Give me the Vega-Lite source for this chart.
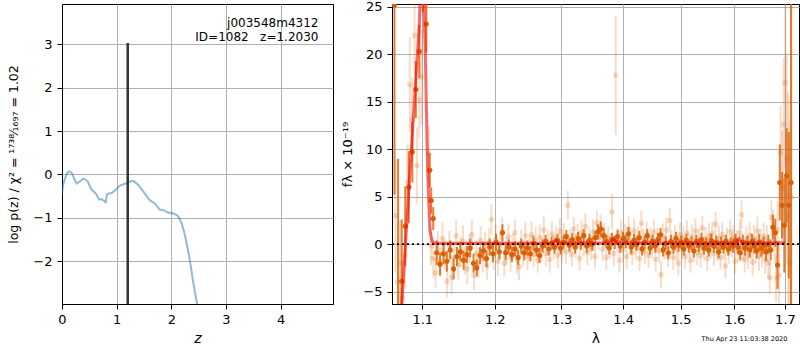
{
"$schema": "https://vega.github.io/schema/vega-lite/v6.json",
"padding": {"left": 7, "top": 0, "right": 0, "bottom": 0},
"config": {
 "font": "DejaVu Sans",
 "view": {"stroke": "black", "strokeWidth": 1},
 "axis": {"domainColor": "black", "tickColor": "black", "labelColor": "black", "titleColor": "black", "gridColor": "#b0b0b0", "gridWidth": 1, "tickSize": 5, "labelFontSize": 13, "titleFontSize": 13, "titleFontWeight": "normal", "labelPadding": 4, "labelFlush": false, "labelOverlap": false, "domainWidth": 1}
},
"datasets": {
 "pz": [
  {"z":0.0,"lp":-0.44},{"z":0.02,"lp":-0.25},{"z":0.055,"lp":-0.095},{"z":0.09,"lp":0.02},{"z":0.128,"lp":0.07},{"z":0.16,"lp":0.06},{"z":0.18,"lp":0.03},{"z":0.23,"lp":-0.12},{"z":0.27,"lp":-0.21},{"z":0.33,"lp":-0.16},{"z":0.39,"lp":-0.1},{"z":0.43,"lp":-0.12},{"z":0.47,"lp":-0.16},{"z":0.5,"lp":-0.24},{"z":0.54,"lp":-0.35},{"z":0.6,"lp":-0.42},{"z":0.63,"lp":-0.46},{"z":0.66,"lp":-0.54},{"z":0.68,"lp":-0.58},{"z":0.72,"lp":-0.57},{"z":0.756,"lp":-0.6},{"z":0.8,"lp":-0.64},{"z":0.815,"lp":-0.52},{"z":0.83,"lp":-0.45},{"z":0.91,"lp":-0.43},{"z":1.0,"lp":-0.34},{"z":1.06,"lp":-0.26},{"z":1.19,"lp":-0.2},{"z":1.28,"lp":-0.15},{"z":1.33,"lp":-0.17},{"z":1.4,"lp":-0.25},{"z":1.49,"lp":-0.4},{"z":1.55,"lp":-0.5},{"z":1.61,"lp":-0.6},{"z":1.7,"lp":-0.67},{"z":1.74,"lp":-0.74},{"z":1.79,"lp":-0.81},{"z":1.84,"lp":-0.82},{"z":1.88,"lp":-0.84},{"z":1.94,"lp":-0.88},{"z":2.04,"lp":-0.9},{"z":2.1,"lp":-0.94},{"z":2.14,"lp":-0.99},{"z":2.19,"lp":-1.13},{"z":2.23,"lp":-1.3},{"z":2.27,"lp":-1.52},{"z":2.34,"lp":-1.98},{"z":2.4,"lp":-2.48},{"z":2.47,"lp":-2.98},{"z":2.52,"lp":-3.4}
 ],
 "zline": [{"z":1.203,"lp":-2.99,"lp2":3.03}],
 "label": [{"z":4.694,"lp":3.406,"t":"j003548m4312"},{"z":4.694,"lp":3.083,"t":"ID=1082\u00a0\u00a0\u00a0z=1.2030"}],
 "stamp": [{"l":1.7049,"f":-10.0,"t":"Thu Apr 23 11:03:38 2020"}],
 "model": [
  {"l":1.07,"f":-14},{"l":1.0731,"f":-6.3},{"l":1.0777,"f":-0.4},{"l":1.0823,"f":5.7},{"l":1.0869,"f":11.6},{"l":1.0915,"f":17.4},{"l":1.0961,"f":23.2},{"l":1.099,"f":31},{"l":1.101,"f":28},{"l":1.104,"f":20},{"l":1.107,"f":8},{"l":1.11,"f":1.5},{"l":1.113,"f":0.3},{"l":1.116,"f":0.12},{"l":1.2,"f":0.1},{"l":1.285,"f":0.12},{"l":1.291,"f":0.45},{"l":1.297,"f":0.12},{"l":1.378,"f":0.15},{"l":1.384,"f":0.6},{"l":1.39,"f":0.15},{"l":1.603,"f":0.12},{"l":1.609,"f":0.6},{"l":1.615,"f":0.12},{"l":1.7,"f":0.15}
 ],
 "dark": [
  {"l":1.0639,"f":25.2,"e":20},{"l":1.0685,"f":-8,"e":17},{"l":1.0731,"f":-3.9,"e":6.5},{"l":1.0777,"f":1.9,"e":4.2},{"l":1.0823,"f":6.0,"e":3.8},{"l":1.0869,"f":9.7,"e":3.2},{"l":1.0915,"f":16.3,"e":3.0},{"l":1.0961,"f":20.3,"e":2.8},{"l":1.1007,"f":27.5,"e":3.0},{"l":1.1053,"f":23.2,"e":3.0},{"l":1.1099,"f":7.8,"e":1.8},{"l":1.1118,"f":4.6,"e":1.4},{"l":1.1145,"f":2.7,"e":1.2},
  {"l":1.1191,"f":-0.9,"e":1.3},{"l":1.1237,"f":-2.1,"e":1.2},{"l":1.1283,"f":-1.0,"e":1.1},{"l":1.1329,"f":-1.8,"e":1.1},{"l":1.1375,"f":-0.6,"e":1.0},{"l":1.1421,"f":-2.6,"e":1.1},{"l":1.1467,"f":-1.3,"e":1.0},{"l":1.1513,"f":-0.8,"e":1.0},{"l":1.1559,"f":-1.7,"e":1.0},{"l":1.1605,"f":-1.1,"e":0.9},{"l":1.1651,"f":-0.4,"e":1.0},{"l":1.1697,"f":-2.0,"e":1.0},{"l":1.1743,"f":-2.5,"e":0.9},{"l":1.1789,"f":-1.2,"e":0.9},{"l":1.1835,"f":-0.7,"e":0.9},{"l":1.1881,"f":-1.5,"e":0.9},{"l":1.1927,"f":-0.3,"e":0.9},{"l":1.1973,"f":-1.0,"e":0.9},{"l":1.2019,"f":0.2,"e":0.9},{"l":1.2065,"f":-0.8,"e":0.8},{"l":1.2111,"f":1.2,"e":0.9},{"l":1.2157,"f":-0.9,"e":0.8},{"l":1.2203,"f":-0.3,"e":0.8},{"l":1.2249,"f":-1.1,"e":0.8},{"l":1.2295,"f":-0.5,"e":0.8},{"l":1.2341,"f":-1.4,"e":0.8},{"l":1.2387,"f":-0.2,"e":0.8},{"l":1.2433,"f":-0.9,"e":0.8},{"l":1.2479,"f":-0.4,"e":0.8},{"l":1.2525,"f":-1.0,"e":0.8},{"l":1.2571,"f":0.1,"e":0.8},{"l":1.2617,"f":-0.6,"e":0.7},{"l":1.2663,"f":-1.2,"e":0.8},{"l":1.2709,"f":-0.2,"e":0.7},{"l":1.2755,"f":0.3,"e":0.7},{"l":1.2801,"f":-0.5,"e":0.7},{"l":1.2847,"f":0.1,"e":0.7},{"l":1.2893,"f":-0.3,"e":0.7},{"l":1.2939,"f":0.4,"e":0.7},{"l":1.2985,"f":-0.4,"e":0.7},{"l":1.3031,"f":0.2,"e":0.7},{"l":1.3077,"f":0.8,"e":0.7},{"l":1.3123,"f":-0.1,"e":0.7},{"l":1.3169,"f":0.5,"e":0.7},{"l":1.3215,"f":-0.3,"e":0.7},{"l":1.3261,"f":0.6,"e":0.7},{"l":1.3307,"f":0.1,"e":0.7},{"l":1.3353,"f":0.9,"e":0.7},{"l":1.3399,"f":-0.2,"e":0.7},{"l":1.3445,"f":0.4,"e":0.7},{"l":1.3491,"f":0.0,"e":0.7},{"l":1.3537,"f":0.7,"e":0.7},{"l":1.3583,"f":1.3,"e":0.8},{"l":1.3629,"f":1.6,"e":0.8},{"l":1.3675,"f":0.9,"e":0.8},{"l":1.3721,"f":0.3,"e":0.7},{"l":1.3767,"f":-0.4,"e":0.7},{"l":1.3813,"f":0.5,"e":0.7},{"l":1.3859,"f":0.2,"e":0.7},{"l":1.3905,"f":0.8,"e":0.7},{"l":1.3951,"f":-0.2,"e":0.7},{"l":1.3997,"f":0.6,"e":0.7},{"l":1.4043,"f":0.3,"e":0.7},{"l":1.4089,"f":1.1,"e":0.7},{"l":1.4135,"f":-0.3,"e":0.7},{"l":1.4181,"f":0.4,"e":0.7},{"l":1.4227,"f":0.0,"e":0.7},{"l":1.4273,"f":0.7,"e":0.7},{"l":1.4319,"f":-0.5,"e":0.7},{"l":1.4365,"f":0.2,"e":0.7},{"l":1.4411,"f":0.9,"e":0.7},{"l":1.4457,"f":-0.4,"e":0.7},{"l":1.4503,"f":0.3,"e":0.7},{"l":1.4549,"f":-0.2,"e":0.7},{"l":1.4595,"f":0.5,"e":0.7},{"l":1.4641,"f":1.0,"e":0.7},{"l":1.4687,"f":-0.6,"e":0.7},{"l":1.4733,"f":0.1,"e":0.7},{"l":1.4779,"f":-0.9,"e":0.7},{"l":1.4825,"f":0.3,"e":0.7},{"l":1.4871,"f":-0.3,"e":0.7},{"l":1.4917,"f":0.6,"e":0.7},{"l":1.4963,"f":-0.1,"e":0.7},{"l":1.5009,"f":0.2,"e":0.7},{"l":1.5055,"f":-0.5,"e":0.7},{"l":1.5101,"f":0.4,"e":0.7},{"l":1.5147,"f":-0.2,"e":0.7},{"l":1.5193,"f":0.1,"e":0.7},{"l":1.5239,"f":-0.7,"e":0.7},{"l":1.5285,"f":0.3,"e":0.7},{"l":1.5331,"f":-0.1,"e":0.7},{"l":1.5377,"f":0.5,"e":0.7},{"l":1.5423,"f":-0.4,"e":0.7},{"l":1.5469,"f":0.0,"e":0.7},{"l":1.5515,"f":-0.6,"e":0.7},{"l":1.5561,"f":0.4,"e":0.7},{"l":1.5607,"f":-0.2,"e":0.7},{"l":1.5653,"f":0.2,"e":0.7},{"l":1.5699,"f":-0.8,"e":0.7},{"l":1.5745,"f":0.1,"e":0.7},{"l":1.5791,"f":-0.3,"e":0.7},{"l":1.5837,"f":0.3,"e":0.7},{"l":1.5883,"f":-0.5,"e":0.7},{"l":1.5929,"f":0.0,"e":0.7},{"l":1.5975,"f":-0.2,"e":0.7},{"l":1.6021,"f":0.4,"e":0.7},{"l":1.6067,"f":-0.3,"e":0.7},{"l":1.6113,"f":-0.9,"e":0.8},{"l":1.6159,"f":0.2,"e":0.8},{"l":1.6205,"f":-0.4,"e":0.8},{"l":1.6251,"f":0.1,"e":0.8},{"l":1.6297,"f":-0.6,"e":0.8},{"l":1.6343,"f":0.3,"e":0.8},{"l":1.6389,"f":-0.2,"e":0.8},{"l":1.6435,"f":-0.7,"e":0.8},{"l":1.6481,"f":0.2,"e":0.9},{"l":1.6527,"f":-0.4,"e":0.9},{"l":1.6573,"f":-0.1,"e":0.9},{"l":1.6619,"f":-0.8,"e":1.0},{"l":1.6665,"f":0.0,"e":1.0},{"l":1.6711,"f":-0.6,"e":1.1},{"l":1.6757,"f":1.8,"e":1.3},{"l":1.6803,"f":1.2,"e":1.5},{"l":1.6849,"f":-2.2,"e":2.5},{"l":1.6895,"f":6.5,"e":4.0},{"l":1.6941,"f":4.1,"e":3.5},{"l":1.6987,"f":2.0,"e":5.0},{"l":1.7033,"f":7.2,"e":5.0},{"l":1.7079,"f":4.1,"e":7.7},{"l":1.7125,"f":6.5,"e":40}
 ],
 "light": [
  {"l":1.065,"f":3.0,"e":6},{"l":1.0681,"f":-4.0,"e":5},{"l":1.0712,"f":-2.0,"e":4.5},{"l":1.0743,"f":-5.7,"e":4},{"l":1.0774,"f":-1.2,"e":3.5},{"l":1.0805,"f":6.5,"e":4},{"l":1.0836,"f":16.8,"e":5},{"l":1.0867,"f":13.1,"e":4.5},{"l":1.0898,"f":22.0,"e":4},{"l":1.0929,"f":8.3,"e":4},{"l":1.096,"f":15.2,"e":4},{"l":1.0991,"f":17.6,"e":5},{"l":1.1022,"f":30,"e":5},{"l":1.1053,"f":26,"e":4},{"l":1.1084,"f":9.5,"e":3},{"l":1.1115,"f":-0.2,"e":2},{"l":1.1146,"f":-1.5,"e":2},
  {"l":1.1177,"f":-3.0,"e":1.6},{"l":1.1208,"f":-0.4,"e":1.8},{"l":1.1239,"f":-1.9,"e":1.5},{"l":1.127,"f":0.6,"e":1.7},{"l":1.1301,"f":-1.1,"e":1.6},{"l":1.1332,"f":-3.9,"e":1.7},{"l":1.1363,"f":-0.2,"e":1.6},{"l":1.1394,"f":-3.5,"e":1.8},{"l":1.1425,"f":-1.4,"e":1.5},{"l":1.1456,"f":0.9,"e":1.6},{"l":1.1487,"f":-2.2,"e":1.5},{"l":1.1518,"f":-0.8,"e":1.6},{"l":1.1549,"f":0.3,"e":1.7},{"l":1.158,"f":-1.7,"e":1.5},{"l":1.1611,"f":-2.6,"e":1.6},{"l":1.1642,"f":-0.5,"e":1.5},{"l":1.1673,"f":1.0,"e":1.6},{"l":1.1704,"f":-3.3,"e":1.5},{"l":1.1735,"f":-1.0,"e":1.5},{"l":1.1766,"f":-2.0,"e":1.6},{"l":1.1797,"f":0.4,"e":1.5},{"l":1.1828,"f":-1.5,"e":1.5},{"l":1.1859,"f":-0.3,"e":1.6},{"l":1.189,"f":-2.3,"e":1.5},{"l":1.1921,"f":0.2,"e":1.5},{"l":1.1952,"f":2.6,"e":1.6},{"l":1.1983,"f":-1.2,"e":1.5},{"l":1.2014,"f":0.5,"e":1.5},{"l":1.2045,"f":-1.8,"e":1.5},{"l":1.2076,"f":-0.1,"e":1.4},{"l":1.2107,"f":1.3,"e":1.5},{"l":1.2138,"f":-2.0,"e":1.4},{"l":1.2169,"f":-0.7,"e":1.5},{"l":1.22,"f":0.8,"e":1.4},{"l":1.2231,"f":-1.4,"e":1.5},{"l":1.2262,"f":-0.3,"e":1.4},{"l":1.2293,"f":1.2,"e":1.4},{"l":1.2324,"f":-1.6,"e":1.5},{"l":1.2355,"f":-2.4,"e":1.4},{"l":1.2386,"f":0.1,"e":1.4},{"l":1.2417,"f":-0.9,"e":1.4},{"l":1.2448,"f":0.9,"e":1.4},{"l":1.2479,"f":-1.3,"e":1.4},{"l":1.251,"f":-0.4,"e":1.4},{"l":1.2541,"f":1.0,"e":1.4},{"l":1.2572,"f":-1.1,"e":1.3},{"l":1.2603,"f":0.4,"e":1.4},{"l":1.2634,"f":-1.7,"e":1.3},{"l":1.2665,"f":0.7,"e":1.4},{"l":1.2696,"f":-0.5,"e":1.3},{"l":1.2727,"f":1.5,"e":1.4},{"l":1.2758,"f":-1.0,"e":1.3},{"l":1.2789,"f":0.2,"e":1.3},{"l":1.282,"f":-1.6,"e":1.4},{"l":1.2851,"f":1.1,"e":1.3},{"l":1.2882,"f":-0.3,"e":1.3},{"l":1.2913,"f":0.6,"e":1.3},{"l":1.2944,"f":-1.2,"e":1.3},{"l":1.2975,"f":1.4,"e":1.3},{"l":1.3006,"f":-0.6,"e":1.3},{"l":1.3037,"f":0.9,"e":1.3},{"l":1.3068,"f":-0.8,"e":1.3},{"l":1.3099,"f":4.1,"e":1.5},{"l":1.313,"f":0.3,"e":1.3},{"l":1.3161,"f":-1.1,"e":1.3},{"l":1.3192,"f":1.6,"e":1.3},{"l":1.3223,"f":-0.2,"e":1.3},{"l":1.3254,"f":0.8,"e":1.3},{"l":1.3285,"f":-1.5,"e":1.3},{"l":1.3316,"f":1.2,"e":1.3},{"l":1.3347,"f":0.0,"e":1.3},{"l":1.3378,"f":1.9,"e":1.3},{"l":1.3409,"f":-0.9,"e":1.3},{"l":1.344,"f":0.5,"e":1.3},{"l":1.3471,"f":-0.4,"e":1.3},{"l":1.3502,"f":1.3,"e":1.3},{"l":1.3533,"f":-1.3,"e":1.3},{"l":1.3564,"f":2.2,"e":1.3},{"l":1.3595,"f":0.7,"e":1.3},{"l":1.3626,"f":1.8,"e":1.3},{"l":1.3657,"f":-0.5,"e":1.3},{"l":1.3688,"f":1.0,"e":1.3},{"l":1.3719,"f":-1.4,"e":1.3},{"l":1.375,"f":0.6,"e":1.3},{"l":1.3781,"f":-0.2,"e":1.3},{"l":1.3812,"f":3.4,"e":1.9},{"l":1.3843,"f":-1.0,"e":1.3},{"l":1.3874,"f":17.8,"e":6.3},{"l":1.3905,"f":0.4,"e":1.3},{"l":1.3936,"f":-1.7,"e":1.3},{"l":1.3967,"f":1.2,"e":1.3},{"l":1.3998,"f":-0.6,"e":1.3},{"l":1.4029,"f":0.8,"e":1.3},{"l":1.406,"f":-1.3,"e":1.3},{"l":1.4091,"f":1.6,"e":1.3},{"l":1.4122,"f":0.1,"e":1.3},{"l":1.4153,"f":-0.9,"e":1.3},{"l":1.4184,"f":1.4,"e":1.3},{"l":1.4215,"f":-0.3,"e":1.3},{"l":1.4246,"f":0.6,"e":1.3},{"l":1.4277,"f":-1.5,"e":1.3},{"l":1.4308,"f":2.2,"e":1.3},{"l":1.4339,"f":0.3,"e":1.3},{"l":1.437,"f":-0.8,"e":1.3},{"l":1.4401,"f":1.1,"e":1.3},{"l":1.4432,"f":-1.2,"e":1.3},{"l":1.4463,"f":0.5,"e":1.3},{"l":1.4494,"f":-0.2,"e":1.3},{"l":1.4525,"f":1.3,"e":1.3},{"l":1.4556,"f":-1.6,"e":1.3},{"l":1.4587,"f":0.4,"e":1.3},{"l":1.4618,"f":-0.7,"e":1.3},{"l":1.4649,"f":-3.2,"e":1.4},{"l":1.468,"f":0.9,"e":1.3},{"l":1.4711,"f":-0.4,"e":1.3},{"l":1.4742,"f":1.5,"e":1.3},{"l":1.4773,"f":-1.1,"e":1.3},{"l":1.4804,"f":2.5,"e":1.3},{"l":1.4835,"f":0.2,"e":1.3},{"l":1.4866,"f":-1.4,"e":1.3},{"l":1.4897,"f":0.7,"e":1.3},{"l":1.4928,"f":-0.5,"e":1.3},{"l":1.4959,"f":-2.0,"e":1.3},{"l":1.499,"f":1.0,"e":1.3},{"l":1.5021,"f":-0.3,"e":1.3},{"l":1.5052,"f":0.6,"e":1.3},{"l":1.5083,"f":-1.3,"e":1.3},{"l":1.5114,"f":1.2,"e":1.3},{"l":1.5145,"f":-0.1,"e":1.3},{"l":1.5176,"f":-1.7,"e":1.3},{"l":1.5207,"f":0.8,"e":1.3},{"l":1.5238,"f":-0.6,"e":1.3},{"l":1.5269,"f":1.4,"e":1.3},{"l":1.53,"f":-0.9,"e":1.3},{"l":1.5331,"f":0.3,"e":1.3},{"l":1.5362,"f":-1.2,"e":1.3},{"l":1.5393,"f":1.7,"e":1.3},{"l":1.5424,"f":-0.4,"e":1.3},{"l":1.5455,"f":0.5,"e":1.3},{"l":1.5486,"f":-1.5,"e":1.3},{"l":1.5517,"f":0.9,"e":1.3},{"l":1.5548,"f":-0.2,"e":1.3},{"l":1.5579,"f":1.1,"e":1.3},{"l":1.561,"f":-1.0,"e":1.3},{"l":1.5641,"f":2.1,"e":1.3},{"l":1.5672,"f":-0.5,"e":1.3},{"l":1.5703,"f":0.6,"e":1.3},{"l":1.5734,"f":-1.4,"e":1.3},{"l":1.5765,"f":1.0,"e":1.3},{"l":1.5796,"f":-0.3,"e":1.3},{"l":1.5827,"f":-2.3,"e":1.3},{"l":1.5858,"f":0.4,"e":1.3},{"l":1.5889,"f":-0.8,"e":1.3},{"l":1.592,"f":1.3,"e":1.3},{"l":1.5951,"f":-0.1,"e":1.3},{"l":1.5982,"f":0.7,"e":1.3},{"l":1.6013,"f":-1.8,"e":1.3},{"l":1.6044,"f":0.2,"e":1.3},{"l":1.6075,"f":-0.7,"e":1.3},{"l":1.6106,"f":1.2,"e":1.4},{"l":1.6137,"f":3.1,"e":1.5},{"l":1.6168,"f":-0.4,"e":1.4},{"l":1.6199,"f":-1.6,"e":1.4},{"l":1.623,"f":0.5,"e":1.4},{"l":1.6261,"f":-1.2,"e":1.4},{"l":1.6292,"f":0.9,"e":1.4},{"l":1.6323,"f":-0.2,"e":1.4},{"l":1.6354,"f":-1.9,"e":1.4},{"l":1.6385,"f":0.6,"e":1.4},{"l":1.6416,"f":-0.6,"e":1.4},{"l":1.6447,"f":1.4,"e":1.5},{"l":1.6478,"f":-1.3,"e":1.5},{"l":1.6509,"f":0.1,"e":1.5},{"l":1.654,"f":-0.9,"e":1.5},{"l":1.6571,"f":0.8,"e":1.5},{"l":1.6602,"f":-1.6,"e":1.6},{"l":1.6633,"f":0.4,"e":1.6},{"l":1.6664,"f":-2.0,"e":1.7},{"l":1.6695,"f":-3.5,"e":1.8},{"l":1.6726,"f":2.8,"e":1.9},{"l":1.6757,"f":1.6,"e":2.0},{"l":1.6788,"f":0.2,"e":2.2},{"l":1.6819,"f":-3.6,"e":2.5},{"l":1.685,"f":1.5,"e":3.0},{"l":1.6881,"f":-3.3,"e":3.5},{"l":1.6912,"f":9.6,"e":5},{"l":1.6943,"f":6.0,"e":6},{"l":1.6974,"f":12.6,"e":7},{"l":1.7005,"f":17.0,"e":9},{"l":1.7036,"f":9.0,"e":11},{"l":1.7067,"f":3.0,"e":13},{"l":1.7098,"f":-2.0,"e":15},{"l":1.7129,"f":5.0,"e":20}
 ]
},
"spacing": 59,
"bounds": "flush",
"hconcat": [
 {
  "width": 271, "height": 300,
  "layer": [
   {"data": {"name": "pz"}, "mark": {"type": "line", "color": "#1f77b4", "opacity": 0.5, "strokeWidth": 2, "clip": true},
    "encoding": {
     "x": {"field": "z", "type": "quantitative", "title": "z", "scale": {"domain": [0, 4.96], "nice": false, "zero": false}, "axis": {"titleFontStyle": "italic", "titleFontSize": 14, "values": [0, 1, 2, 3, 4], "format": "d", "titlePadding": 5}},
     "y": {"field": "lp", "type": "quantitative", "title": "log p(z) / χ² = ¹⁷³⁸⁄₁₆₉₇ = 1.02", "scale": {"domain": [-2.99, 3.93], "nice": false, "zero": false}, "axis": {"titleFontSize": 12.5, "values": [-2, -1, 0, 1, 2, 3], "format": "d", "labelPadding": 5, "titlePadding": 12}}
    }},
   {"data": {"name": "zline"}, "mark": {"type": "rule", "color": "#333333", "strokeWidth": 2.5, "clip": true},
    "encoding": {"x": {"field": "z", "type": "quantitative", "title": "z"}, "y": {"field": "lp", "type": "quantitative", "title": "log p(z) / χ² = ¹⁷³⁸⁄₁₆₉₇ = 1.02"}, "y2": {"field": "lp2"}}},
   {"data": {"name": "label"}, "mark": {"type": "text", "align": "right", "baseline": "alphabetic", "fontSize": 12, "color": "black"},
    "encoding": {"x": {"field": "z", "type": "quantitative", "title": "z"}, "y": {"field": "lp", "type": "quantitative", "title": "log p(z) / χ² = ¹⁷³⁸⁄₁₆₉₇ = 1.02"}, "text": {"field": "t"}}}
  ]
 },
 {
  "width": 407, "height": 300,
  "layer": [
   {"data": {"name": "light"}, "mark": {"type": "errorbar", "color": "#d95f02", "opacity": 0.22, "thickness": 2, "rule": {"strokeWidth": 2}, "clip": true},
    "encoding": {
     "x": {"field": "l", "type": "quantitative", "title": "λ", "scale": {"type": "log", "domain": [1.0607, 1.7289], "nice": false}, "axis": {"titleFontSize": 14, "values": [1.1, 1.2, 1.3, 1.4, 1.5, 1.6, 1.7], "format": ".1f", "titlePadding": 5}},
     "y": {"field": "f", "type": "quantitative", "title": "fλ × 10⁻¹⁹", "scale": {"domain": [-6.3, 25.3], "nice": false, "zero": false}, "axis": {"values": [-5, 0, 5, 10, 15, 20, 25], "format": "d", "labelPadding": 5, "titlePadding": 8}},
     "yError": {"field": "e"}
    }},
   {"data": {"name": "light"}, "mark": {"type": "circle", "color": "#d95f02", "opacity": 0.22, "size": 30, "clip": true},
    "encoding": {"x": {"field": "l", "type": "quantitative", "title": "λ"}, "y": {"field": "f", "type": "quantitative", "title": "fλ × 10⁻¹⁹"}}},
   {"data": {"name": "dark"}, "mark": {"type": "errorbar", "color": "#d95f02", "opacity": 0.8, "thickness": 2, "rule": {"strokeWidth": 2}, "clip": true},
    "encoding": {"x": {"field": "l", "type": "quantitative", "title": "λ"}, "y": {"field": "f", "type": "quantitative", "title": "fλ × 10⁻¹⁹"}, "yError": {"field": "e"}}},
   {"data": {"name": "dark"}, "mark": {"type": "circle", "color": "#d95f02", "opacity": 1, "size": 26, "clip": true},
    "encoding": {"x": {"field": "l", "type": "quantitative", "title": "λ"}, "y": {"field": "f", "type": "quantitative", "title": "fλ × 10⁻¹⁹"}}},
   {"data": {"name": "model"}, "mark": {"type": "line", "color": "#ff0000", "opacity": 0.6, "strokeWidth": 3, "clip": true},
    "encoding": {"x": {"field": "l", "type": "quantitative", "title": "λ"}, "y": {"field": "f", "type": "quantitative", "title": "fλ × 10⁻¹⁹"}}},
   {"data": {"values": [{}]}, "mark": {"type": "rule", "color": "black", "strokeDash": [2, 3], "strokeWidth": 1.8},
    "encoding": {"y": {"datum": 0, "type": "quantitative", "title": "fλ × 10⁻¹⁹"}}},
   {"data": {"name": "stamp"}, "mark": {"type": "text", "align": "right", "baseline": "middle", "fontSize": 6.5, "color": "black"},
    "encoding": {"x": {"field": "l", "type": "quantitative", "title": "λ"}, "y": {"field": "f", "type": "quantitative", "title": "fλ × 10⁻¹⁹"}, "text": {"field": "t"}}}
  ]
 }
]
}
